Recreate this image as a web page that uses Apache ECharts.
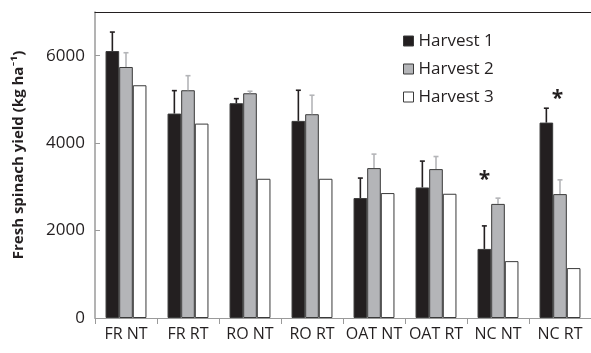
<!DOCTYPE html>
<html>
<head>
<meta charset="utf-8">
<script src="https://cdn.jsdelivr.net/npm/echarts@6/dist/echarts.min.js"></script>
<style>
  html, body { margin: 0; padding: 0; background: #fff; }
  #chart { width: 591px; height: 353px; }
</style>
</head>
<body>
<div id="chart"></div>
<script>
// Treatments on the category axis
const categories = ['FR NT', 'FR RT', 'RO NT', 'RO RT', 'OAT NT', 'OAT RT', 'NC NT', 'NC RT'];

// Mean fresh spinach yield (kg ha-1) per harvest
const harvest1 = [6107, 4676, 4913, 4509, 2744, 2986, 1580, 4470];
const harvest2 = [5742, 5210, 5141, 4662, 3429, 3406, 2610, 2834];
const harvest3 = [5324, 4447, 3185, 3185, 2858, 2842, 1301, 1142];

// Upper error (standard error) for harvests 1 and 2
const harvest1Err = [434, 525, 105, 701, 457, 603, 527, 329];
const harvest2Err = [326, 333, 46, 434, 320, 288, 132, 326];

// Significance markers: category and height of the asterisk
const sigCategories = ['NC NT', 'NC RT'];
const sigHeights = [3270, 5120];

// Y axis tick labels
const yTicks = [0, 2000, 4000, 6000];

const seriesNames = ['Harvest 1', 'Harvest 2', 'Harvest 3'];
const fills = ['#231f20', '#b4b5b8', '#ffffff'];
const errColors = ['#231f20', '#b4b5b8'];
const gapRatio = 0.34;
const font = '"Open Sans", Lato, sans-serif';
const ink = '#231f20';

const chart = echarts.init(document.getElementById('chart'), null, { renderer: 'canvas' });

// Horizontal position of one bar inside its category band
function barCenter(api, catIndex, seriesIndex) {
  const center = api.coord([catIndex, 0])[0];
  const band = api.size([1, 0])[0];
  const w = band * (1 - gapRatio) / 3;
  return { x: center + (seriesIndex - 1) * w, w: w };
}

const errData = [];
harvest1.forEach((v, i) => errData.push([i, v, harvest1Err[i], 0]));
harvest2.forEach((v, i) => errData.push([i, v, harvest2Err[i], 1]));

const sigData = sigCategories.map((c, k) => [categories.indexOf(c), sigHeights[k], k]);
const sigDx = [0, 11];

const barSeries = [harvest1, harvest2, harvest3].map((vals, s) => ({
  name: seriesNames[s],
  type: 'bar',
  data: vals,
  barGap: '0%',
  barCategoryGap: (gapRatio * 100) + '%',
  itemStyle: { color: fills[s], borderColor: '#3a3a3a', borderWidth: 1 },
  emphasis: { disabled: true },
  z: 2
}));

const option = {
  animation: false,
  backgroundColor: '#ffffff',
  grid: { left: 95, right: -11, top: 12, bottom: 35, containLabel: false },
  legend: {
    orient: 'vertical',
    left: 398,
    top: 26,
    data: seriesNames,
    icon: 'rect',
    itemWidth: 10,
    itemHeight: 10,
    itemGap: 8,
    itemStyle: { borderColor: '#3a3a3a', borderWidth: 1 },
    textStyle: { fontFamily: font, fontSize: 17, color: ink, lineHeight: 20, padding: [0, 0, 0, 0] }
  },
  xAxis: [{
    type: 'category',
    data: categories,
    axisLine: { lineStyle: { color: '#9a9a9a', width: 1 } },
    axisTick: { show: true, length: 6, lineStyle: { color: '#9a9a9a' } },
    axisLabel: { fontFamily: font, fontSize: 16, color: ink, margin: 8, interval: 0 }
  }, {
    type: 'category',
    data: categories,
    position: 'top',
    axisLine: { lineStyle: { color: '#231f20', width: 1 } },
    axisTick: { show: false },
    axisLabel: { show: false }
  }],
  yAxis: {
    type: 'value',
    min: 0,
    max: 7000,
    interval: 1000,
    name: 'Fresh spinach yield (kg ha\u207B\u00B9)',
    nameLocation: 'middle',
    nameGap: 69,
    nameTextStyle: { fontFamily: font, fontSize: 15, fontWeight: 'bold', color: ink, padding: [0, 0, 0, 20] },
    axisLine: { show: true, lineStyle: { color: '#9a9a9a', width: 1.5 } },
    axisTick: { show: true, inside: true, length: 5, customValues: yTicks, lineStyle: { color: '#9a9a9a' } },
    axisLabel: {
      fontFamily: font, fontSize: 17, color: ink, margin: 10, customValues: yTicks,
      formatter: v => String(v)
    },
    splitLine: { show: false }
  },
  series: barSeries.concat([{
    name: 'err',
    type: 'custom',
    data: errData,
    z: 5,
    silent: true,
    encode: { x: 0, y: 1 },
    renderItem: function (params, api) {
      const cat = api.value(0), v = api.value(1), e = api.value(2), s = api.value(3);
      const b = barCenter(api, cat, s);
      const y0 = api.coord([cat, v])[1];
      const y1 = api.coord([cat, v + e])[1];
      const style = { stroke: errColors[s], lineWidth: 1.6 };
      return {
        type: 'group',
        children: [
          { type: 'line', shape: { x1: b.x, y1: y0, x2: b.x, y2: y1 }, style: style },
          { type: 'line', shape: { x1: b.x - 2.5, y1: y1, x2: b.x + 2.5, y2: y1 }, style: style }
        ]
      };
    }
  }, {
    name: 'sig',
    type: 'custom',
    data: sigData,
    z: 6,
    silent: true,
    encode: { x: 0, y: 1 },
    renderItem: function (params, api) {
      const cat = api.value(0), h = api.value(1), k = api.value(2);
      const b = barCenter(api, cat, 0);
      const y = api.coord([cat, h])[1];
      return {
        type: 'text',
        style: {
          text: '*', x: b.x + sigDx[k], y: y + 5,
          font: 'bold 21px ' + font, fill: ink,
          align: 'center', verticalAlign: 'middle'
        }
      };
    }
  }])
};

chart.setOption(option);
</script>
</body>
</html>
